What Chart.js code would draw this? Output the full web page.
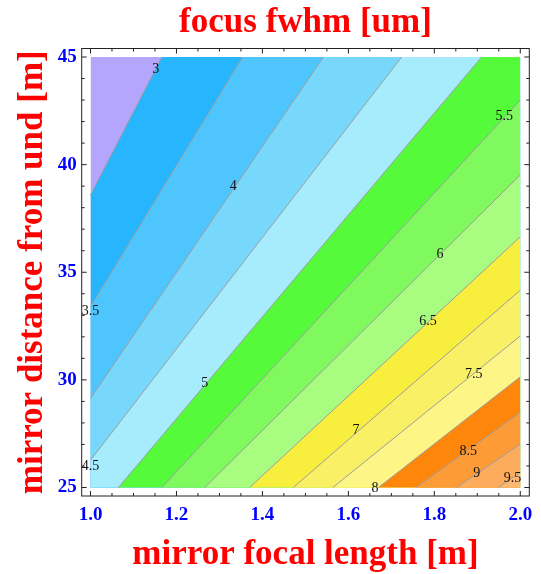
<!DOCTYPE html>
<html>
<head>
<meta charset="utf-8">
<script src="https://cdn.jsdelivr.net/npm/chart.js@4.4.0/dist/chart.umd.min.js"></script>
<style>
    html, body { margin: 0; padding: 0; background: #fff; }
</style>
</head>
<body>
<canvas id="fwhm-graph" width="541" height="574"></canvas>
<script>
/// Contour levels of the focus fwhm [um].
const LEVELS = [3, 3.5, 4, 4.5, 5, 5.5, 6, 6.5, 7, 7.5, 8, 8.5, 9, 9.5];

/// Lower-left end of each contour line (on the left or bottom edge).
const START_X = [1.0, 1.0, 1.0, 1.0, 1.065, 1.166, 1.266, 1.37, 1.472, 1.564, 1.67, 1.757, 1.852, 1.949];
const START_Y = [38.59, 33.4, 29.14, 26.27, 25, 25, 25, 25, 25, 25, 25, 25, 25, 25];

/// Upper-right end of each contour line (on the top or right edge).
const END_X = [1.166, 1.354, 1.542, 1.724, 1.91, 2, 2, 2, 2, 2, 2, 2, 2, 2];
const END_Y = [45, 45, 45, 45, 45, 43.0, 39.52, 36.65, 34.17, 32.04, 30.14, 28.49, 27.02, 25.7];

/// Fill colour of each band, from below 3 up to above 9.5.
const BAND_COLORS = [
    '#b3a6fc', '#27b6fe', '#4fc5fd', '#78d8fc', '#a6ecfd',
    '#55fa3a', '#80f95f', '#a8fc80', '#f7ee3e', '#f9f066',
    '#fdf586', '#fd860b', '#fd9b36', '#fdab5c', '#feb872',
];

/// Where each contour label sits.
const LABEL_X = [1.152, 1.0, 1.332, 1.0, 1.266, 1.963, 1.813, 1.785, 1.618, 1.892, 1.662, 1.879, 1.899, 1.982];
const LABEL_Y = [44.43, 33.2, 38.97, 26.0, 29.84, 42.23, 35.85, 32.7, 27.64, 30.27, 24.96, 26.69, 25.65, 25.42];

/// Plotted domain.
const FOCAL_MIN = 1.0, FOCAL_MAX = 2.0;
const DIST_MIN = 25, DIST_MAX = 45;

const X_TICKS = [1.0, 1.2, 1.4, 1.6, 1.8, 2.0];
const X_MINOR_TICKS = [1.05, 1.1, 1.15, 1.25, 1.3, 1.35, 1.45, 1.5, 1.55, 1.65, 1.7, 1.75, 1.85, 1.9, 1.95];
const Y_TICKS = [25, 30, 35, 40, 45];
const Y_MINOR_TICKS = [26, 27, 28, 29, 31, 32, 33, 34, 36, 37, 38, 39, 41, 42, 43, 44];

const SERIF = '"Liberation Serif", "Times New Roman", serif';
const TICK_FONT = { family: SERIF, size: 19, weight: 'bold' };
const TITLE_FONT = { family: SERIF, size: 35, weight: 'bold' };

// Region where the value is above a level: the contour plus the lower-right corner.
function band_points(i) {
    let pts = [{ x: START_X[i], y: START_Y[i] }, { x: END_X[i], y: END_Y[i] }];
    if (END_Y[i] >= DIST_MAX && END_X[i] < FOCAL_MAX) {
        pts.push({ x: FOCAL_MAX, y: DIST_MAX });
    }
    return pts;
}

let datasets = [{
    data: [{ x: FOCAL_MIN, y: DIST_MAX }, { x: FOCAL_MAX, y: DIST_MAX }],
    backgroundColor: BAND_COLORS[0],
    borderColor: 'transparent',
    borderWidth: 0,
    pointRadius: 0,
    fill: { value: DIST_MIN },
    order: 100,
}];

LEVELS.forEach((level, i) => {
    datasets.push({
        data: band_points(i),
        backgroundColor: BAND_COLORS[i + 1],
        borderColor: 'transparent',
        borderWidth: 0,
        pointRadius: 0,
        fill: { value: DIST_MIN },
        order: 99 - i,
    });
});

LEVELS.forEach((level, i) => {
    datasets.push({
        data: [{ x: START_X[i], y: START_Y[i] }, { x: END_X[i], y: END_Y[i] }],
        borderColor: '#9e9e9e',
        borderWidth: 1,
        pointRadius: 0,
        fill: false,
        order: 0,
    });
});

// Mathematica style frame with inward ticks, then the contour labels.
const frame_plugin = {
    id: 'frame',
    afterDraw(chart) {
        const { ctx, chartArea: a, scales: { x, y } } = chart;
        ctx.save();
        ctx.strokeStyle = '#222';
        ctx.lineWidth = 1;
        ctx.strokeRect(a.left, a.top, a.right - a.left, a.bottom - a.top);

        ctx.beginPath();
        const xtick = (v, len) => {
            const px = x.getPixelForValue(v);
            ctx.moveTo(px, a.bottom); ctx.lineTo(px, a.bottom - len);
            ctx.moveTo(px, a.top); ctx.lineTo(px, a.top + len);
        };
        const ytick = (v, len) => {
            const py = y.getPixelForValue(v);
            ctx.moveTo(a.left, py); ctx.lineTo(a.left + len, py);
            ctx.moveTo(a.right, py); ctx.lineTo(a.right - len, py);
        };
        X_TICKS.forEach(v => xtick(v, 5));
        X_MINOR_TICKS.forEach(v => xtick(v, 3));
        Y_TICKS.forEach(v => ytick(v, 5));
        Y_MINOR_TICKS.forEach(v => ytick(v, 3));
        ctx.stroke();

        ctx.fillStyle = '#111';
        ctx.font = `14px ${SERIF}`;
        ctx.textAlign = 'center';
        ctx.textBaseline = 'middle';
        LEVELS.forEach((level, i) => {
            ctx.fillText(String(level), x.getPixelForValue(LABEL_X[i]), y.getPixelForValue(LABEL_Y[i]));
        });
        ctx.restore();
    },
};

new Chart(document.getElementById('fwhm-graph'), {
    type: 'line',
    data: { datasets: datasets },
    options: {
        responsive: false,
        animation: false,
        layout: { padding: { top: 0, right: 11.7, bottom: 0, left: 0 } },
        plugins: {
            legend: { display: false },
            tooltip: { enabled: false },
            title: {
                display: true,
                fullSize: false,
                text: 'focus fwhm [um]',
                color: '#ff0000',
                font: TITLE_FONT,
                padding: { top: 2, bottom: 4.5 },
            },
        },
        scales: {
            x: {
                type: 'linear',
                min: 0.9795,
                max: 2.021,
                afterBuildTicks: s => { s.ticks = X_TICKS.map(v => ({ value: v })); },
                afterFit: s => { s.height = 78; },
                ticks: {
                    callback: v => Number(v).toFixed(1),
                    color: '#0000ff',
                    font: TICK_FONT,
                    padding: 8,
                    autoSkip: false,
                    maxRotation: 0,
                },
                grid: { display: false, drawTicks: false },
                border: { display: false },
                title: {
                    display: true,
                    text: 'mirror focal length [m]',
                    color: '#ff0000',
                    font: { family: SERIF, size: 35, weight: 'bold', lineHeight: 1.1 },
                    padding: { top: 0, bottom: 0 },
                },
            },
            y: {
                type: 'linear',
                min: 24.605,
                max: 45.395,
                afterBuildTicks: s => { s.ticks = Y_TICKS.map(v => ({ value: v })); },
                afterFit: s => { s.width = 81.7; },
                ticks: {
                    callback: v => String(v),
                    color: '#0000ff',
                    font: TICK_FONT,
                    padding: 5,
                    autoSkip: false,
                },
                grid: { display: false, drawTicks: false },
                border: { display: false },
                title: {
                    display: true,
                    text: 'mirror distance from und [m]',
                    color: '#ff0000',
                    font: TITLE_FONT,
                    padding: { top: 11.5, bottom: 0 },
                },
            },
        },
    },
    plugins: [frame_plugin],
});
</script>
</body>
</html>
